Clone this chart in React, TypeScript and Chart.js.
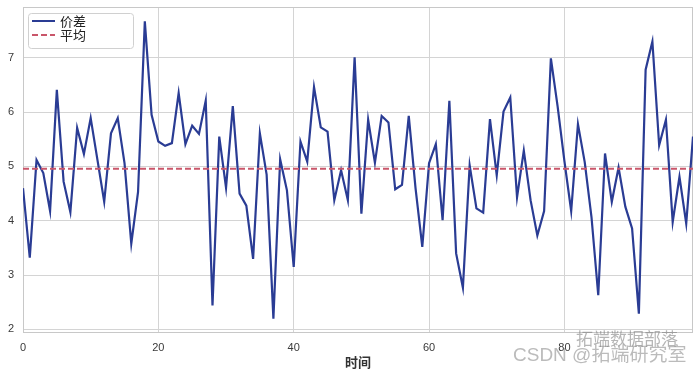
import React, { useEffect, useRef } from "react";
import { Chart, registerables } from "chart.js";

Chart.register(...registerables);

// ---- data ----
const priceDiff: number[] = [
  4.60, 3.32, 5.12, 4.88, 4.18, 6.41, 4.72, 4.16, 5.71, 5.23,
  5.89, 5.12, 4.35, 5.61, 5.89, 5.06, 3.58, 4.53, 7.67, 5.95,
  5.46, 5.38, 5.43, 6.35, 5.41, 5.75, 5.60, 6.21, 2.44, 5.55,
  4.61, 6.11, 4.50, 4.28, 3.30, 5.61, 4.85, 2.20, 5.13, 4.56,
  3.15, 5.46, 5.09, 6.46, 5.72, 5.64, 4.38, 4.93, 4.38, 7.01,
  4.13, 5.86, 5.07, 5.93, 5.81, 4.58, 4.66, 5.93, 4.60, 3.52,
  5.06, 5.41, 4.01, 6.21, 3.40, 2.77, 5.02, 4.23, 4.15, 5.87,
  4.84, 6.01, 6.27, 4.43, 5.29, 4.38, 3.73, 4.18, 6.99, 6.10,
  5.10, 4.18, 5.78, 5.08, 4.07, 2.63, 5.24, 4.35, 4.98, 4.26,
  3.86, 2.29, 6.78, 7.30, 5.39, 5.86, 3.98, 4.81, 3.95, 5.55,
];
const timeSteps: number[] = priceDiff.map((_, i) => i);
const meanValue = 4.96;
const xTicks: number[] = [0, 20, 40, 60, 80];
const yTicks: number[] = [2, 3, 4, 5, 6, 7];
const seriesLabel = "价差";
const meanLabel = "平均";
const xTitle = "时间";

const BLUE = "#2a3c94";
const RED = "#c9566a";
const GRID = "#d4d4d4";
const TICK_COLOR = "#3a3a3a";
const CJK = "'Noto Sans CJK SC', 'Noto Sans', sans-serif";

const framePlugin = {
  id: "frameAndLegend",
  beforeDatasetsDraw(chart: any) {
    const { ctx, chartArea: ca } = chart;
    ctx.save();
    ctx.strokeStyle = "#c8c8c8";
    ctx.lineWidth = 1;
    ctx.strokeRect(ca.left + 0.5, ca.top + 0.5, ca.right - ca.left - 1, ca.bottom - ca.top - 1);
    ctx.restore();
  },
  afterDraw(chart: any) {
    const { ctx, chartArea: ca } = chart;
    ctx.save();
    const bx = ca.left + 5.5;
    const by = ca.top + 6.5;
    const bw = 105;
    const bh = 35;
    const r = 3;
    ctx.beginPath();
    ctx.moveTo(bx + r, by);
    ctx.lineTo(bx + bw - r, by);
    ctx.quadraticCurveTo(bx + bw, by, bx + bw, by + r);
    ctx.lineTo(bx + bw, by + bh - r);
    ctx.quadraticCurveTo(bx + bw, by + bh, bx + bw - r, by + bh);
    ctx.lineTo(bx + r, by + bh);
    ctx.quadraticCurveTo(bx, by + bh, bx, by + bh - r);
    ctx.lineTo(bx, by + r);
    ctx.quadraticCurveTo(bx, by, bx + r, by);
    ctx.closePath();
    ctx.fillStyle = "rgba(255,255,255,0.85)";
    ctx.fill();
    ctx.strokeStyle = "#d0d0d0";
    ctx.lineWidth = 1;
    ctx.stroke();

    const lx0 = ca.left + 9;
    const lx1 = ca.left + 32;
    const y1 = ca.top + 14;
    const y2 = ca.top + 28;
    ctx.lineWidth = 2;
    ctx.strokeStyle = BLUE;
    ctx.setLineDash([]);
    ctx.beginPath();
    ctx.moveTo(lx0, y1);
    ctx.lineTo(lx1, y1);
    ctx.stroke();
    ctx.strokeStyle = RED;
    ctx.setLineDash([6, 3]);
    ctx.beginPath();
    ctx.moveTo(lx0, y2);
    ctx.lineTo(lx1, y2);
    ctx.stroke();
    ctx.setLineDash([]);

    ctx.fillStyle = "#222";
    ctx.font = `13px ${CJK}`;
    ctx.textBaseline = "middle";
    ctx.textAlign = "left";
    ctx.fillText(seriesLabel, ca.left + 37, y1);
    ctx.fillText(meanLabel, ca.left + 37, y2);
    ctx.restore();
  },
};

export default function App() {
  const canvasRef = useRef<HTMLCanvasElement | null>(null);

  useEffect(() => {
    if (!canvasRef.current) return;
    const chart = new Chart(canvasRef.current, {
      type: "line",
      data: {
        datasets: [
          {
            label: meanLabel,
            data: [
              { x: timeSteps[0], y: meanValue },
              { x: timeSteps[timeSteps.length - 1], y: meanValue },
            ],
            borderColor: RED,
            borderWidth: 2,
            borderDash: [6, 3],
            pointRadius: 0,
            order: 0,
          },
          {
            label: seriesLabel,
            data: priceDiff.map((v, i) => ({ x: timeSteps[i], y: v })),
            borderColor: BLUE,
            borderWidth: 2.2,
            pointRadius: 0,
            tension: 0,
            order: 1,
          },
        ],
      },
      options: {
        responsive: false,
        animation: false,
        layout: { padding: { top: 7, right: 6, left: 0, bottom: 0 } },
        plugins: {
          legend: { display: false },
          tooltip: { enabled: false },
        },
        scales: {
          x: {
            type: "linear",
            min: 0,
            max: 99,
            afterBuildTicks: (s: any) => {
              s.ticks = xTicks.map((v) => ({ value: v }));
            },
            afterFit: (s: any) => {
              s.height = 41;
              s.paddingLeft = 0;
              s.paddingRight = 0;
            },
            grid: { color: GRID, drawTicks: false, lineWidth: 1 },
            border: { display: false },
            ticks: {
              padding: 8,
              color: TICK_COLOR,
              font: { size: 11, family: "'Liberation Sans', Arial, sans-serif" },
              maxRotation: 0,
            },
            title: {
              display: true,
              text: xTitle,
              color: "#333",
              font: { size: 13, weight: "bold", family: CJK },
              padding: { top: 0, bottom: 4 },
            },
          },
          y: {
            type: "linear",
            min: 1.935,
            max: 7.935,
            afterBuildTicks: (s: any) => {
              s.ticks = yTicks.map((v) => ({ value: v }));
            },
            afterFit: (s: any) => {
              s.width = 23;
              s.paddingTop = 0;
              s.paddingBottom = 0;
            },
            grid: { color: GRID, drawTicks: false, lineWidth: 1 },
            border: { display: false },
            ticks: {
              padding: 9,
              color: TICK_COLOR,
              font: { size: 11, family: "'Liberation Sans', Arial, sans-serif" },
            },
          },
        },
      },
      plugins: [framePlugin],
    });
    return () => chart.destroy();
  }, []);

  return (
    <div style={{ position: "fixed", left: 0, top: 0, width: 699, height: 374, background: "#fff" }}>
      <canvas ref={canvasRef} width={699} height={374} style={{ display: "block" }} />
      <div
        style={{
          position: "absolute",
          left: 576,
          top: 329,
          fontSize: 17,
          lineHeight: "17px",
          fontFamily: CJK,
          color: "rgba(120,120,120,0.55)",
          whiteSpace: "nowrap",
          pointerEvents: "none",
        }}
      >
        拓端数据部落
      </div>
      <div
        style={{
          position: "absolute",
          left: 513,
          top: 345,
          fontSize: 19,
          lineHeight: "19px",
          fontFamily: "'Liberation Sans', 'Noto Sans CJK SC', sans-serif",
          color: "rgba(120,120,120,0.5)",
          whiteSpace: "nowrap",
          pointerEvents: "none",
        }}
      >
        CSDN @拓端研究室
      </div>
    </div>
  );
}
